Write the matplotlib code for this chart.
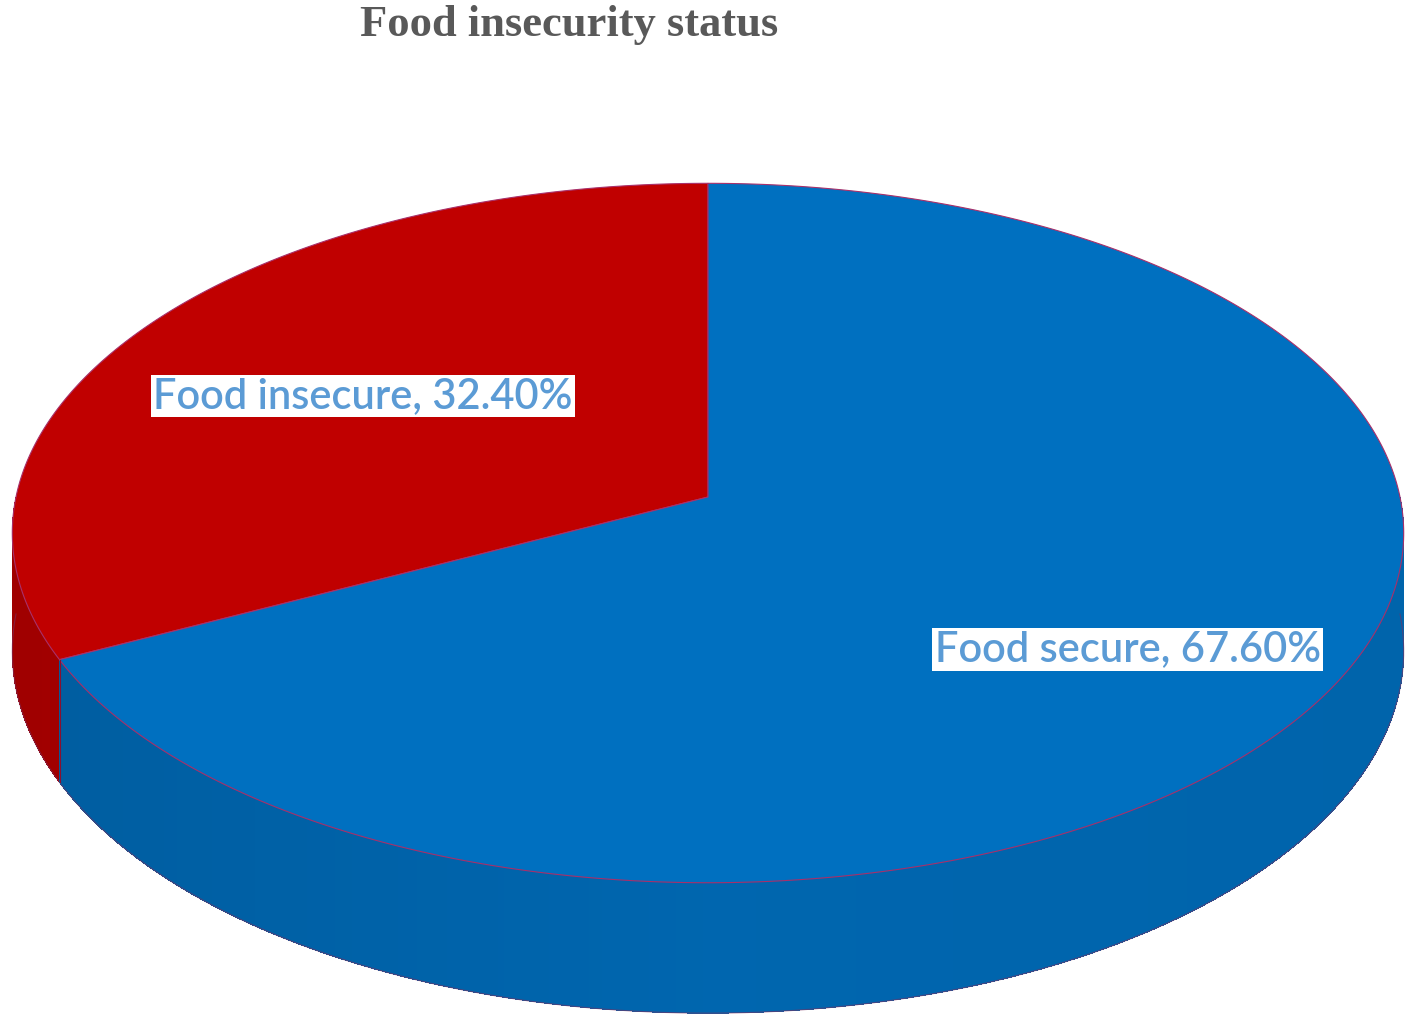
import numpy as np
import matplotlib.pyplot as plt
from matplotlib.patches import Polygon
from matplotlib.colors import to_rgb

# datos del grafico
labels = ["Food insecure", "Food secure"]
values = [32.40, 67.60]
colors = ["#C00000", "#0070C0"]
title = "Food insecurity status"

# geometria del disco en perspectiva (pixeles)
cx, cy = 708, 497      # centro del disco
A, B = 692, 346        # radios
k = 0.103              # perspectiva
D = 117                # grosor
start = 90.0
label_r = [(0.618, 0.587), (0.674, 0.794)]

fig = plt.figure(figsize=(14.18, 10.25), dpi=100)
ax = fig.add_axes([0, 0, 1, 1])
ax.set_xlim(0, 1418)
ax.set_ylim(1025, 0)
ax.axis("off")

fracs = np.array(values) / sum(values)
angles = start + np.concatenate([[0], np.cumsum(fracs) * 360])


def pt(t, r=1.0, rx=None, ry=None, down=0.0):
    th = np.radians(t)
    u, v = r * np.cos(th), r * np.sin(th)
    w = 1 + k * v
    sx = rx if rx is not None else 1.0
    sy = ry if ry is not None else 1.0
    return cx + A * u * sx / w, cy - B * v * sy / w + down * D / w


def shade(c, f):
    r, g, bb = to_rgb(c)
    return (min(r * f, 1), min(g * f, 1), min(bb * f, 1))


# lados (solo la parte frontal)
step = 0.5
for i in range(len(values)):
    t0, t1 = angles[i], angles[i + 1]
    for t in np.arange(t0, t1, step):
        tt = t % 360
        if tt < 180:
            continue
        ta, tb = t, min(t + step * 1.6, t1)
        c = np.cos(np.radians(tt))
        f = 0.86 + 0.05 * (1 - abs(c)) + 0.03 * c
        xs = np.linspace(ta, tb, 3)
        top = [pt(x) for x in xs]
        bot = [pt(x, down=1) for x in xs[::-1]]
        ax.add_patch(Polygon(top + bot, closed=True, facecolor=shade(colors[i], f),
                             edgecolor="none", antialiased=False))

# contorno inferior
tb_ = np.linspace(180, 360, 300)
xb, yb = zip(*[pt(t, down=1) for t in tb_])
ax.plot(xb, yb, color="#7A3060", lw=0.8, alpha=0.6)

# caras superiores
for i in range(len(values)):
    ts = np.linspace(angles[i], angles[i + 1], 400)
    poly = [pt(0, r=0)] + [pt(t) for t in ts]
    ax.add_patch(Polygon(poly, closed=True, facecolor=colors[i],
                         edgecolor="#A8306A", lw=0.8))

# borde entre rebanadas en el lado
for t in angles[1:-1]:
    if np.sin(np.radians(t)) < 0:
        x0, y0 = pt(t)
        x1, y1 = pt(t, down=1)
        ax.plot([x0, x1], [y0, y1], color="#8A1030", lw=0.8)

# etiquetas
for i in range(len(values)):
    mid = (angles[i] + angles[i + 1]) / 2
    rx, ry = label_r[i]
    x, y = pt(mid, rx=rx, ry=ry)
    ax.text(x, y, f"{labels[i]}, {values[i]:.2f}%", fontsize=30, family="Lato",
            weight="semibold", color="#5B9BD5", ha="center", va="center",
            bbox=dict(facecolor="white", edgecolor="none", pad=1.5))

ax.text(569, 25, title, fontsize=32, family="Liberation Serif", weight="bold",
        color="#595959", ha="center", va="center")

fig.savefig("out.png", dpi=100)
